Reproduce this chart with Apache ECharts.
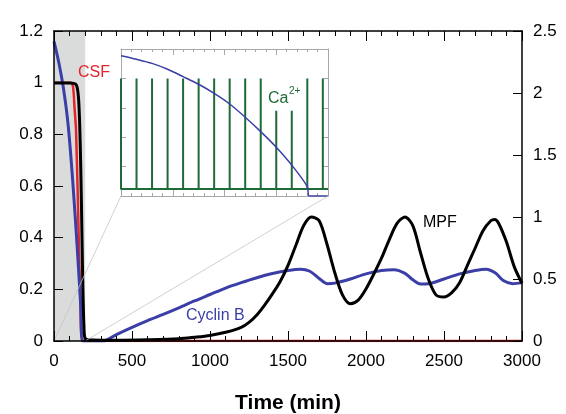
<!DOCTYPE html>
<html>
<head>
<meta charset="utf-8">
<script src="https://cdn.jsdelivr.net/npm/echarts@6/dist/echarts.min.js"></script>
<style>
  html, body { margin: 0; padding: 0; background: #fff; }
  #chart { width: 566px; height: 414px; }
</style>
</head>
<body>
<div id="chart"></div>
<script>
// main panel, time in minutes
const csfTime = [0, 110, 120, 126, 132, 141, 152, 162, 172, 178, 200, 3000];
const csfValue = [1.0, 1.0, 0.99, 0.96, 0.9, 0.82, 0.57, 0.31, 0.1, 0.0, 0, 0];

const cyclinTime = [0, 30, 60, 90, 120, 150, 170, 186, 250, 316, 400, 500, 600, 700, 800, 900, 1000, 1100, 1200, 1300, 1400, 1500, 1580, 1640, 1700, 1750, 1800, 1900, 2000, 2100, 2180, 2250, 2300, 2350, 2400, 2500, 2600, 2700, 2770, 2830, 2880, 2940, 3000];
const cyclinValue = [1.16, 1.08, 0.98, 0.84, 0.62, 0.35, 0.15, 0.0, 0, 0, 0.025, 0.053, 0.079, 0.103, 0.128, 0.155, 0.18, 0.205, 0.226, 0.245, 0.261, 0.273, 0.278, 0.27, 0.242, 0.222, 0.224, 0.24, 0.26, 0.273, 0.276, 0.262, 0.237, 0.221, 0.222, 0.24, 0.26, 0.273, 0.278, 0.263, 0.234, 0.222, 0.226];

// MPF is read on the right axis
const mpfTime = [0, 100, 140, 152, 160, 168, 176, 184, 192, 200, 250, 400, 600, 800, 900, 1000, 1100, 1200, 1250, 1300, 1350, 1400, 1450, 1500, 1550, 1600, 1650, 1700, 1750, 1800, 1850, 1900, 1950, 2000, 2050, 2100, 2150, 2200, 2250, 2300, 2350, 2400, 2450, 2500, 2550, 2600, 2650, 2700, 2750, 2800, 2825, 2850, 2900, 2950, 3000];
const mpfValue = [2.08, 2.08, 2.07, 2.02, 1.9, 1.6, 1.1, 0.5, 0.12, 0.02, 0.008, 0.006, 0.01, 0.018, 0.03, 0.045, 0.07, 0.11, 0.15, 0.21, 0.29, 0.38, 0.48, 0.61, 0.77, 0.93, 1.0, 0.97, 0.78, 0.55, 0.37, 0.3, 0.33, 0.42, 0.54, 0.67, 0.82, 0.95, 1.0, 0.93, 0.71, 0.5, 0.37, 0.355, 0.39, 0.47, 0.61, 0.75, 0.89, 0.97, 0.98, 0.95, 0.8, 0.6, 0.465];

// inset: first 200 min
const caSpikeTime = [0, 15, 30, 45, 60, 75, 90, 105, 120, 135, 150, 165, 180, 195];
const caSpikePeak = [4, 4, 4, 4, 4, 4, 4, 4, 4, 4, 2.9, 2.9, 4, 4];
const caBase = 0.24;

const insetCyclinTime = [0, 15, 30, 45, 60, 75, 90, 105, 120, 135, 150, 165, 180, 182, 200];
const insetCyclinValue = [4.77, 4.65, 4.51, 4.31, 4.06, 3.8, 3.49, 3.13, 2.68, 2.19, 1.66, 1.05, 0.32, 0, 0];

const zip = (xs, ys) => xs.map((x, i) => [x, ys[i]]);

const caPoints = [];
caSpikeTime.forEach((t, i) => {
  caPoints.push([t, caBase], [t, caSpikePeak[i]], [t, caBase]);
});
caPoints.push([200, caBase]);

const FONT = 'Liberation Sans';
const RED = '#e3242b';
const BLUE = '#3a3ea6';
const GREEN = '#1f6b37';
const INSET_GRAY = '#a8a8a8';

const chart = echarts.init(document.getElementById('chart'));

const mainX = (position, labels) => ({
  type: 'value', gridIndex: 0, position: position, min: 0, max: 3000, interval: 500, z: 6,
  axisLine: { onZero: false, lineStyle: { color: '#000', width: 1.5 } },
  axisTick: { inside: true, length: 10, lineStyle: { color: '#000' } },
  minorTick: { show: true, splitNumber: 5, length: 5, lineStyle: { color: '#000' } },
  axisLabel: { show: labels, margin: 12, color: '#000', fontSize: 17, fontFamily: FONT, formatter: (v) => String(v) },
  splitLine: { show: false }
});

const mainY = (position, max, interval) => ({
  type: 'value', gridIndex: 0, position: position, min: 0, max: max, interval: interval, z: 6,
  axisLine: { show: true, onZero: false, lineStyle: { color: '#000', width: 1.5 } },
  axisTick: { show: true, inside: true, length: 9, lineStyle: { color: '#000' } },
  axisLabel: { margin: 11, color: '#000', fontSize: 17, fontFamily: FONT },
  splitLine: { show: false }
});

const insetX = (position) => ({
  type: 'value', gridIndex: 1, position: position, min: 0, max: 200, interval: 50,
  axisLine: { onZero: false, lineStyle: { color: INSET_GRAY, width: 1 } },
  axisTick: { inside: true, length: 6, lineStyle: { color: INSET_GRAY } },
  minorTick: { show: true, splitNumber: 5, length: 3, lineStyle: { color: INSET_GRAY } },
  axisLabel: { show: false },
  splitLine: { show: false }
});

const insetY = (position) => ({
  type: 'value', gridIndex: 1, position: position, min: 0, max: 5, interval: 1,
  axisLine: { show: true, onZero: false, lineStyle: { color: INSET_GRAY, width: 1 } },
  axisTick: { show: true, inside: true, length: 5, lineStyle: { color: INSET_GRAY } },
  axisLabel: { show: false },
  splitLine: { show: false }
});

const option = {
  animation: false,
  backgroundColor: '#fff',
  grid: [
    { left: 54, top: 31, right: 44, bottom: 73, outerBoundsMode: 'none' },
    { left: 121, top: 49, width: 207, height: 147, outerBoundsMode: 'none', show: true, backgroundColor: '#fff', borderWidth: 0 }
  ],
  xAxis: [
    Object.assign(mainX('bottom', true), {
      name: 'Time (min)', nameLocation: 'middle', nameGap: 52,
      nameTextStyle: { color: '#000', fontSize: 21, fontWeight: 'bold', fontFamily: FONT }
    }),
    mainX('top', false),
    insetX('bottom'),
    insetX('top')
  ],
  yAxis: [
    mainY('left', 1.2, 0.2),
    mainY('right', 2.5, 0.5),
    insetY('left'),
    insetY('right')
  ],
  series: [
    {
      name: 'shade', type: 'line', data: [[0, 0]], showSymbol: false, z: 1,
      lineStyle: { width: 0 }, silent: true,
      markArea: { silent: true, itemStyle: { color: '#dadcdc' }, data: [[{ xAxis: 0 }, { xAxis: 200 }]] }
    },
    {
      name: 'CSF', type: 'line', data: zip(csfTime, csfValue), showSymbol: false, z: 3,
      smooth: 0.2, lineStyle: { color: RED, width: 2.5 }
    },
    {
      name: 'Cyclin B', type: 'line', data: zip(cyclinTime, cyclinValue), showSymbol: false, z: 4,
      smooth: 0.3, lineStyle: { color: BLUE, width: 3 }
    },
    {
      name: 'MPF', type: 'line', yAxisIndex: 1, data: zip(mpfTime, mpfValue), showSymbol: false, z: 5,
      smooth: 0.3, lineStyle: { color: '#000', width: 3 }
    },
    {
      name: 'Ca2+', type: 'line', xAxisIndex: 2, yAxisIndex: 2, data: caPoints, showSymbol: false, z: 3,
      lineStyle: { color: GREEN, width: 2 }
    },
    {
      name: 'Cyclin B inset', type: 'line', xAxisIndex: 2, yAxisIndex: 2, data: zip(insetCyclinTime, insetCyclinValue),
      showSymbol: false, z: 4, smooth: 0.3, lineStyle: { color: BLUE, width: 1.5 }
    }
  ]
};

chart.setOption(option);

// zoom lines and labels, placed from data coordinates
const px = (seriesIndex, pt) => chart.convertToPixel({ seriesIndex: seriesIndex }, pt);
const m0 = px(1, [0, 0]), m1 = px(1, [200, 0]);
const i0 = px(5, [0, 0]), i1 = px(5, [200, 0]);
const csfAt = px(1, [154, 1.04]);
const cycAt = px(2, [846, 0.097]);
const mpfAt = px(1, [2365, 0.46]);
const caAt = px(5, [142, 3.3]);

const label = (pos, text, color, size) => ({
  type: 'text', x: pos[0], y: pos[1], z: 10,
  style: { text: text, fill: color, fontSize: size, fontFamily: FONT, align: 'left', verticalAlign: 'middle' }
});

chart.setOption({
  graphic: [
    { type: 'line', z: 6, shape: { x1: m0[0], y1: m0[1], x2: i0[0], y2: i0[1] }, style: { stroke: '#c4c4c4', lineWidth: 0.8 } },
    { type: 'line', z: 6, shape: { x1: m1[0], y1: m1[1], x2: i1[0], y2: i1[1] }, style: { stroke: '#c4c4c4', lineWidth: 0.8 } },
    label(csfAt, 'CSF', RED, 16),
    label(cycAt, 'Cyclin B', BLUE, 16),
    label(mpfAt, 'MPF', '#000', 16),
    label(caAt, 'Ca', GREEN, 16),
    label([caAt[0] + 21, caAt[1] - 8], '2+', GREEN, 10)
  ]
});
</script>
</body>
</html>
